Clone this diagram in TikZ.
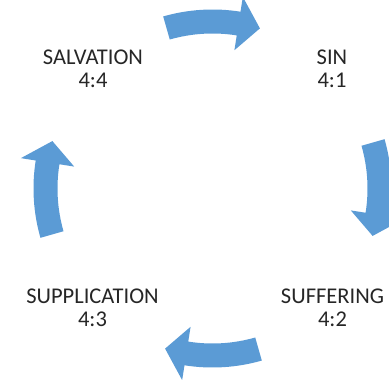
\documentclass[tikz,border=0pt]{standalone}
\usepackage{fontspec}
\setmainfont{Carlito}
\begin{document}
\begin{tikzpicture}[x=1pt,y=1pt,
  arrowfill/.style={fill=arrowblue,draw=none},
  lbl/.style={align=center,anchor=base,inner sep=0pt,font=\fontsize{22.5}{22.5}\selectfont,text=black!85}]
\definecolor{arrowblue}{HTML}{5B9BD5}
\useasboundingbox (0,0) rectangle (389,-380);
\clip (0,0) rectangle (389,-380);
\coordinate (C) at (212.5,-188.5);
\foreach \r in {0,-90,-180,-270}{
  \begin{scope}[shift={(C)},rotate=\r]
    \fill[arrowfill] (106:179) arc[start angle=106,end angle=81,radius=179]
      -- (81:194) -- (73.5:167) -- (81:140) -- (81:155)
      arc[start angle=81,end angle=106,radius=155] -- cycle;
  \end{scope}
}
\node[lbl] (salv) at (93,-87) {SALVATION\\4:4};
\node[lbl] (sin) at (332,-87) {SIN\\4:1};
\node[lbl] (supp) at (92.5,-326) {SUPPLICATION\\4:3};
\node[lbl] (suff) at (332.5,-326) {SUFFERING\\4:2};
\end{tikzpicture}
\end{document}
